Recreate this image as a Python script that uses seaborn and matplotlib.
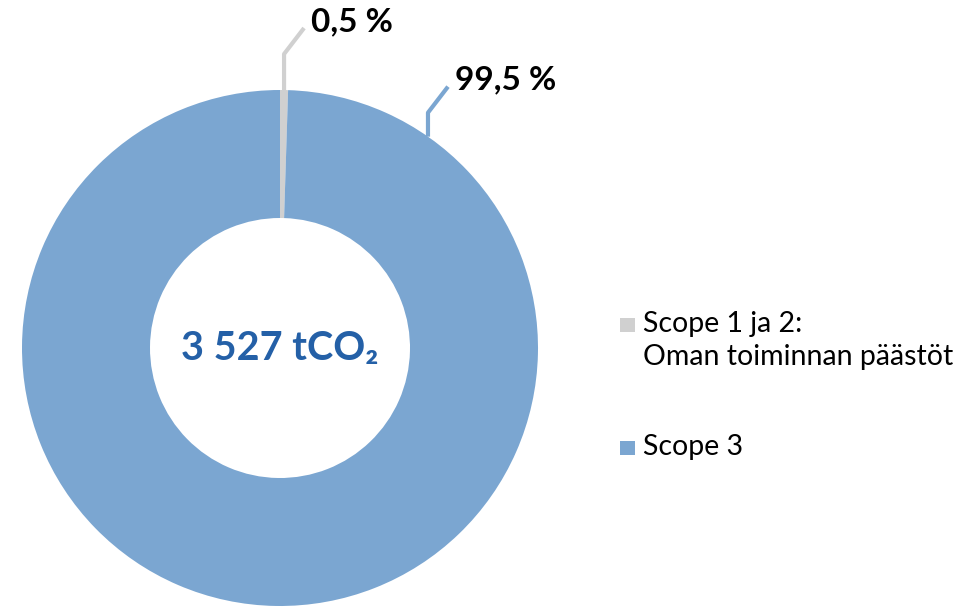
import numpy as np
import seaborn as sns
import matplotlib.pyplot as plt
from matplotlib.patches import Rectangle

categories = ["Scope 1 ja 2:\nOman toiminnan päästöt", "Scope 3"]
shares = [0.5, 99.5]
share_labels = ["0,5 %", "99,5 %"]
total_label = "3 527 tCO₂"

colors = ["#D0D0D0", "#7BA6D1"]
total_color = "#2460A7"

sns.set_theme(style="white")
plt.rcParams['font.family'] = ['Lato', 'DejaVu Sans']

W, H = 979, 608
fig = plt.figure(figsize=(W / 100, H / 100), dpi=100)
ax = fig.add_axes([0, 0, 1, 1])

cx, cy, r_out = 280, 260, 258
wedges, _ = ax.pie(shares, colors=colors, startangle=90, counterclock=False,
                   radius=r_out, center=(cx, cy), frame=True,
                   wedgeprops=dict(width=r_out - 130, edgecolor='none'))
ax.set_xlim(0, W)
ax.set_ylim(0, H)
ax.set_aspect('equal')
ax.axis('off')

ax.text(cx, cy, total_label, ha='center', va='center', fontsize=28.5,
        fontweight='bold', color=total_color)

# leader lines: vertical rise then a short diagonal, label to the right
label_angles = [89.1, 55]
rises = [36, 24]
for ang, rise, lab, col in zip(label_angles, rises, share_labels, colors):
    a = np.radians(ang)
    x0, y0 = cx + r_out * np.cos(a), cy + r_out * np.sin(a)
    x1, y1 = x0, y0 + rise
    x2, y2 = x1 + 20, y1 + 26
    ax.plot([x0, x1, x2], [y0, y1, y2], color=col, lw=3, solid_capstyle='butt')
    ax.text(x2 + 7, y2 - 3, lab, ha='left', va='baseline', fontsize=24,
            fontweight='bold', color='black')

# legend drawn by hand so the swatch sits on the first text line
leg_x, leg_baselines = 620, [276, 153]
for cat, col, yb in zip(categories, colors, leg_baselines):
    ax.add_patch(Rectangle((leg_x, yb), 15, 14, facecolor=col, edgecolor='none'))
    first, *rest = cat.split('\n')
    ax.text(leg_x + 23, yb, first, ha='left', va='baseline', fontsize=20.5, color='black')
    for i, line in enumerate(rest, start=1):
        ax.text(leg_x + 23, yb - 33 * i, line, ha='left', va='baseline',
                fontsize=20.5, color='black')

fig.savefig('out.png', dpi=100)
